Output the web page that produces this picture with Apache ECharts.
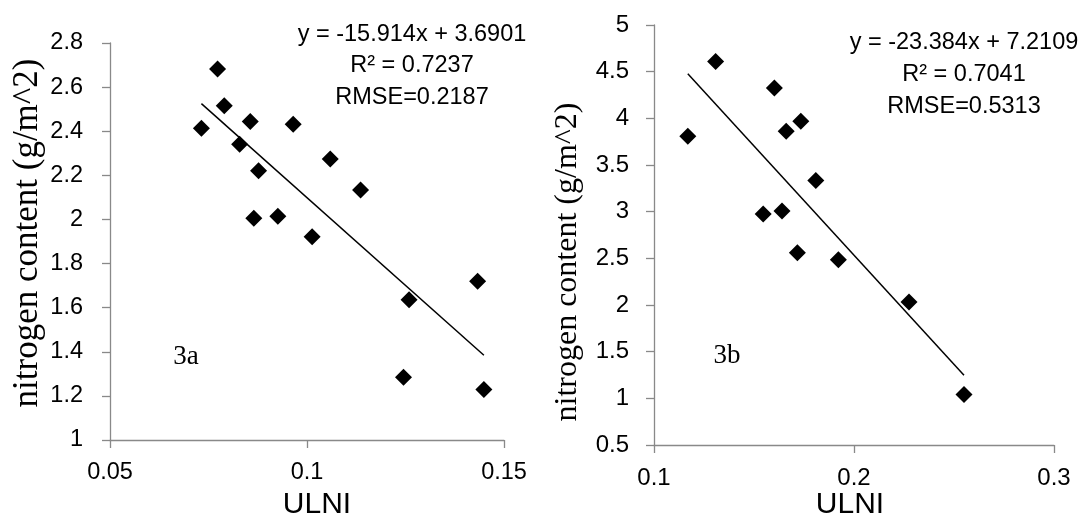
<!DOCTYPE html>
<html>
<head>
<meta charset="utf-8">
<script src="https://cdn.jsdelivr.net/npm/echarts@6/dist/echarts.min.js"></script>
<style>
  html, body { margin: 0; padding: 0; background: #fff; }
  #chart { width: 1084px; height: 516px; }
</style>
</head>
<body>
<div id="chart"></div>
<script>
// 3a: ULNI vs nitrogen content
const ulniA = [0.0732, 0.0773, 0.0790, 0.0829, 0.0856, 0.0877, 0.0865, 0.0926, 0.0965, 0.1013, 0.1059, 0.1136, 0.1259, 0.1245, 0.1433, 0.1449]
const nitroA = [2.414, 2.682, 2.515, 2.341, 2.444, 2.221, 2.005, 2.015, 2.432, 1.921, 2.274, 2.133, 1.636, 1.285, 1.720, 1.229]
const fitA = { slope: -15.914, intercept: 3.6901 }
const textA = ['y = -15.914x + 3.6901', 'R² = 0.7237', 'RMSE=0.2187']

// 3b
const ulniB = [0.1169, 0.1308, 0.1602, 0.1661, 0.1734, 0.1809, 0.1546, 0.1640, 0.1717, 0.1922, 0.2275, 0.2550]
const nitroB = [3.809, 4.608, 4.326, 3.862, 3.969, 3.335, 2.974, 3.006, 2.561, 2.486, 2.033, 1.041]
const fitB = { slope: -23.384, intercept: 7.2109 }
const textB = ['y = -23.384x + 7.2109', 'R² = 0.7041', 'RMSE=0.5313']

const AXIS_GRAY = '#898989'
const SANS = 'Liberation Sans'
const SERIF = 'Liberation Serif'

const chart = echarts.init(document.getElementById('chart'))

// regression line drawn across the data's x range
const trend = (xs, fit) => {
  const lo = Math.min(...xs)
  const hi = Math.max(...xs)
  return [[lo, fit.slope * lo + fit.intercept], [hi, fit.slope * hi + fit.intercept]]
}

const fmt = v => String(+v.toFixed(2))

const xAxisCfg = (idx, min, max, interval, fontSize) => ({
  type: 'value', gridIndex: idx, min, max, interval,
  axisLine: { show: true, onZero: false, lineStyle: { color: AXIS_GRAY, width: 1.3 } },
  axisTick: { show: true, inside: false, length: 8, lineStyle: { color: AXIS_GRAY, width: 1.3 } },
  axisLabel: { color: '#000', fontFamily: SANS, fontSize, margin: 21, formatter: fmt },
  splitLine: { show: false },
})

const yAxisCfg = (idx, min, max, interval, fontSize, margin) => ({
  type: 'value', gridIndex: idx, min, max, interval,
  axisLine: { show: true, onZero: false, lineStyle: { color: AXIS_GRAY, width: 1.3 } },
  axisTick: { show: true, inside: false, length: 8, lineStyle: { color: AXIS_GRAY, width: 1.3 } },
  axisLabel: { color: '#000', fontFamily: SANS, fontSize, margin, formatter: fmt },
  splitLine: { show: false },
})

const label = (x, y, text, font, rotation = 0) => ({
  type: 'text', x, y, rotation,
  style: { text, font, fill: '#000', align: 'center', verticalAlign: 'middle' },
})

const eqLines = (cx, ys, lines) => lines.map((t, i) => label(cx, ys[i], t, `23.5px "${SANS}"`))

const option = {
  animation: false,
  backgroundColor: '#fff',
  grid: [
    { left: 110, top: 43, width: 394, height: 397 },
    { left: 654, top: 25, width: 400, height: 420 },
  ],
  xAxis: [
    xAxisCfg(0, 0.05, 0.15, 0.05, 23.5),
    xAxisCfg(1, 0.1, 0.3, 0.1, 24),
  ],
  yAxis: [
    yAxisCfg(0, 1, 2.8, 0.2, 23.5, 27),
    yAxisCfg(1, 0.5, 5, 0.5, 24, 25),
  ],
  series: [
    {
      type: 'line', xAxisIndex: 0, yAxisIndex: 0, data: trend(ulniA, fitA),
      symbol: 'none', lineStyle: { color: '#000', width: 1.5 }, z: 1,
    },
    {
      type: 'scatter', xAxisIndex: 0, yAxisIndex: 0,
      data: ulniA.map((x, i) => [x, nitroA[i]]),
      symbol: 'diamond', symbolSize: 17, itemStyle: { color: '#000', opacity: 1 }, z: 2,
    },
    {
      type: 'line', xAxisIndex: 1, yAxisIndex: 1, data: trend(ulniB, fitB),
      symbol: 'none', lineStyle: { color: '#000', width: 1.5 }, z: 1,
    },
    {
      type: 'scatter', xAxisIndex: 1, yAxisIndex: 1,
      data: ulniB.map((x, i) => [x, nitroB[i]]),
      symbol: 'diamond', symbolSize: 17, itemStyle: { color: '#000', opacity: 1 }, z: 2,
    },
  ],
  graphic: [
    ...eqLines(412, [35, 66, 98], textA),
    ...eqLines(964, [43, 75, 107], textB),
    label(186, 357, '3a', `27px "${SERIF}"`),
    label(727, 356, '3b', `27px "${SERIF}"`),
    label(317, 505, 'ULNI', `30px "${SANS}"`),
    label(850, 505, 'ULNI', `30px "${SANS}"`),
    label(28, 233, 'nitrogen content (g/m^2)', `35px "${SERIF}"`, Math.PI / 2),
    label(568, 262, 'nitrogen content (g/m^2)', `32px "${SERIF}"`, Math.PI / 2),
  ],
}

chart.setOption(option)
</script>
</body>
</html>
